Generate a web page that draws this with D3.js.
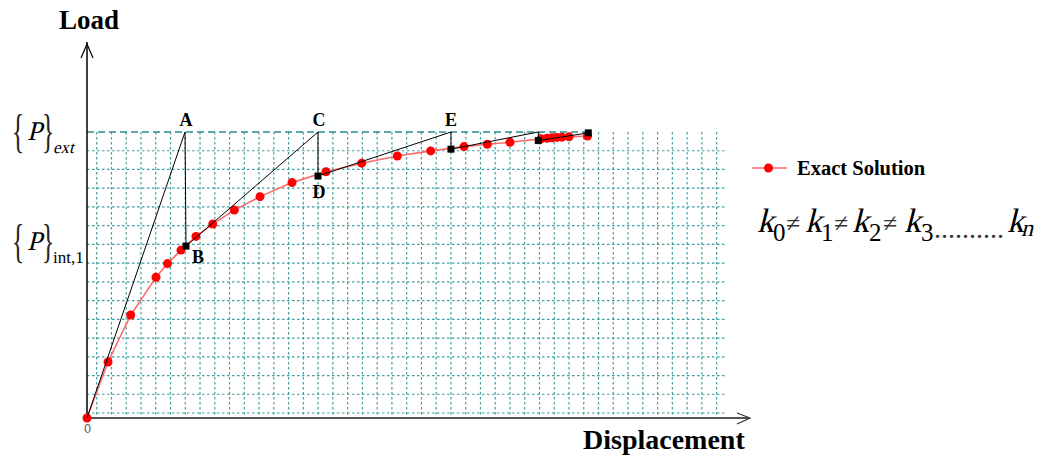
<!DOCTYPE html>
<html>
<head>
<meta charset="utf-8">
<script src="https://cdn.jsdelivr.net/npm/d3@7"></script>
<style>
  body { margin: 0; background: #fff; }
  svg { display: block; }
  svg text { font-family: "Liberation Serif", "Times New Roman", serif; }
</style>
</head>
<body>
<svg id="chart" width="1051" height="459"></svg>
<script>
// exact solution (displacement, load) - load 100 = {P}ext
var exactDisp = [0, 2.1, 4.37, 6.9, 8.05, 9.4, 10.9, 12.57, 14.73, 17.3, 20.5, 23.9, 27.47, 31.03, 34.37, 37.7, 40.03, 42.3, 45.4, 46.0, 46.5, 47.0, 47.5, 48.2, 50.05];
var exactLoad = [0, 19.6, 36.0, 49.2, 54.0, 58.7, 63.5, 67.8, 72.7, 77.4, 82.3, 86.1, 89.1, 91.6, 93.4, 94.9, 95.7, 96.4, 97.6, 97.8, 98.0, 98.1, 98.2, 98.3, 98.6];

// iteration path O-A-B-C-D-E-...
var iterDisp = [0, 9.8, 9.9, 23.1, 23.1, 36.4, 36.4, 45.13, 45.13, 50.13];
var iterLoad = [0, 100, 60.1, 100, 84.6, 100, 94.0, 100, 97.0, 99.7];
var squareIdx = [2, 4, 6, 8, 9];

var pointLabels = ["A", "B", "C", "D", "E"];
var labelIdx = [1, 2, 3, 4, 5];

var xTicks = [0];

var svg = d3.select("#chart");

var x = d3.scaleLinear().domain([0, 50]).range([87, 587]);
var y = d3.scaleLinear().domain([0, 100]).range([418, 132]);

// background grid
var gridColor = "#3f9f9f";
var gridDy = 6.55, gridDx = 1.476, gridX0 = 0.97;
var hGrid = d3.range(1, 16).map(function(i){ return 100 - i * gridDy; });
var vGrid = d3.range(0, 43).map(function(i){ return gridX0 + i * gridDx; });

var grid = svg.append("g").attr("class", "grid");
grid.selectAll("line.h")
    .data(hGrid)
    .enter()
    .append("line")
    .attr("class", "h")
    .attr("x1", x(0)).attr("x2", x(64))
    .attr("y1", function(d){ return y(d); })
    .attr("y2", function(d){ return y(d); })
    .attr("stroke", gridColor)
    .attr("stroke-width", 1.2)
    .attr("stroke-dasharray", "2.5,2.5");
grid.selectAll("line.v")
    .data(vGrid)
    .enter()
    .append("line")
    .attr("class", "v")
    .attr("x1", function(d){ return x(d); })
    .attr("x2", function(d){ return x(d); })
    .attr("y1", y(100)).attr("y2", y(0))
    .attr("stroke", gridColor)
    .attr("stroke-width", 1.2)
    .attr("stroke-dasharray", "2.5,2.5");

// {P}ext level
svg.append("line")
    .attr("x1", x(0)).attr("x2", x(50.3))
    .attr("y1", y(100)).attr("y2", y(100))
    .attr("stroke", "#2a8c8c")
    .attr("stroke-width", 1.5)
    .attr("stroke-dasharray", "7,4");

// axes
svg.append("line")
    .attr("x1", x(0)).attr("x2", x(0))
    .attr("y1", y(0)).attr("y2", 42)
    .attr("stroke", "#000").attr("stroke-width", 1.5);
svg.append("path")
    .attr("d", "M" + (x(0) - 6) + ",58 L" + x(0) + ",44 L" + (x(0) + 6) + ",58")
    .attr("fill", "none").attr("stroke", "#000").attr("stroke-width", 1.2);

svg.append("line")
    .attr("x1", x(0)).attr("x2", 749)
    .attr("y1", y(0)).attr("y2", y(0))
    .attr("stroke", "#555").attr("stroke-width", 2);
svg.append("path")
    .attr("d", "M737,413 L750," + y(0) + " L737,424")
    .attr("fill", "none").attr("stroke", "#333").attr("stroke-width", 1.2);

var xAxis = d3.axisBottom(x).tickValues(xTicks).tickSize(0).tickPadding(6);
var gx = svg.append("g")
    .attr("transform", "translate(0," + y(0) + ")")
    .call(xAxis);
gx.select(".domain").remove();
gx.selectAll("text")
    .attr("fill", "#666")
    .style("font-family", "'DejaVu Sans', sans-serif")
    .style("font-size", "12px");

svg.append("text")
    .attr("x", 59).attr("y", 29)
    .attr("font-weight", "bold").attr("font-size", 27)
    .text("Load");
svg.append("text")
    .attr("x", 583).attr("y", 449)
    .attr("font-weight", "bold").attr("font-size", 28)
    .text("Displacement");

// exact solution curve
var exact = exactDisp.map(function(d, i){ return [d, exactLoad[i]]; });
var line = d3.line()
    .x(function(d){ return x(d[0]); })
    .y(function(d){ return y(d[1]); });

svg.append("path")
    .datum(exact)
    .attr("d", line)
    .attr("fill", "none")
    .attr("stroke", "#ff6a6a")
    .attr("stroke-width", 1.6);
svg.selectAll("circle.exact")
    .data(exact)
    .enter()
    .append("circle")
    .attr("class", "exact")
    .attr("cx", function(d){ return x(d[0]); })
    .attr("cy", function(d){ return y(d[1]); })
    .attr("r", 4.5)
    .attr("fill", "#ff0000");

// iterations
var iter = iterDisp.map(function(d, i){ return [d, iterLoad[i]]; });
svg.append("path")
    .datum(iter)
    .attr("d", line)
    .attr("fill", "none")
    .attr("stroke", "#000")
    .attr("stroke-width", 1);
svg.selectAll("rect.sq")
    .data(squareIdx.map(function(i){ return iter[i]; }))
    .enter()
    .append("rect")
    .attr("class", "sq")
    .attr("x", function(d){ return x(d[0]) - 3.5; })
    .attr("y", function(d){ return y(d[1]) - 3.5; })
    .attr("width", 7).attr("height", 7)
    .attr("fill", "#000");

var labelOffsets = { A: [1, -6, "middle"], B: [6, 17, "start"], C: [1, -6, "middle"], D: [1, 22, "middle"], E: [0, -6, "middle"] };
svg.selectAll("text.pt")
    .data(pointLabels)
    .enter()
    .append("text")
    .attr("class", "pt")
    .attr("x", function(d, i){ return x(iter[labelIdx[i]][0]) + labelOffsets[d][0]; })
    .attr("y", function(d, i){ return y(iter[labelIdx[i]][1]) + labelOffsets[d][1]; })
    .attr("text-anchor", function(d){ return labelOffsets[d][2]; })
    .attr("font-weight", "bold").attr("font-size", 18)
    .text(function(d){ return d; });

// math text helper; italic is drawn as slanted upright serif
function mathText(parent, str, px, py, size, italic, fill) {
    return parent.append("text")
        .attr("transform", "translate(" + px + "," + py + ")" + (italic ? " skewX(-14)" : ""))
        .attr("font-size", size)
        .attr("fill", fill || "#000")
        .text(str);
}

// {P} labels on the left
function braceLabel(xPos, baseY, sub, subItalic) {
    var g = svg.append("g");
    g.append("text")
        .attr("transform", "translate(" + xPos + "," + (baseY + 7) + ") scale(0.55,1)")
        .attr("font-size", 46).attr("fill", "#222")
        .text("{");
    mathText(g, "P", xPos + 15, baseY, 27, true);
    g.append("text")
        .attr("transform", "translate(" + (xPos + 30) + "," + (baseY + 7) + ") scale(0.55,1)")
        .attr("font-size", 46).attr("fill", "#222")
        .text("}");
    mathText(g, sub, xPos + 41, baseY + 13, 17, subItalic);
}
braceLabel(12, 140, "ext", true);
braceLabel(12, 250, "int,1", false);

// legend
var legend = svg.append("g").attr("transform", "translate(752,168)");
legend.append("line")
    .attr("x1", 0).attr("x2", 35)
    .attr("stroke", "#ff6a6a").attr("stroke-width", 1.6);
legend.append("circle")
    .attr("cx", 16.5).attr("r", 4.5).attr("fill", "#ff0000");
legend.append("text")
    .attr("x", 45).attr("y", 7)
    .attr("font-weight", "bold").attr("font-size", 20.5)
    .text("Exact Solution");

// k0 != k1 ... kn
var formula = svg.append("g");
// [text, x, baseline shift, italic, size]
var parts = [
    ["k", 757, 0, true, 34], ["0", 773, 9, false, 25], ["\u2260", 786, 0, false, 26],
    ["k", 805, 0, true, 34], ["1", 821, 9, false, 25], ["\u2260", 834, 0, false, 26],
    ["k", 852, 0, true, 34], ["2", 869, 9, false, 25], ["\u2260", 883, 0, false, 26],
    ["k", 904, 0, true, 34], ["3", 921, 9, false, 25], ["..........", 934, 6, false, 28],
    ["k", 1007, 0, true, 34], ["n", 1021, 4, true, 24]
];
parts.forEach(function(p){
    var isOp = p[0] === "\u2260" || p[0].charAt(0) === ".";
    mathText(formula, p[0], p[1], 232 + p[2], p[4], p[3], isOp ? "#333" : "#000");
});
</script>
</body>
</html>
